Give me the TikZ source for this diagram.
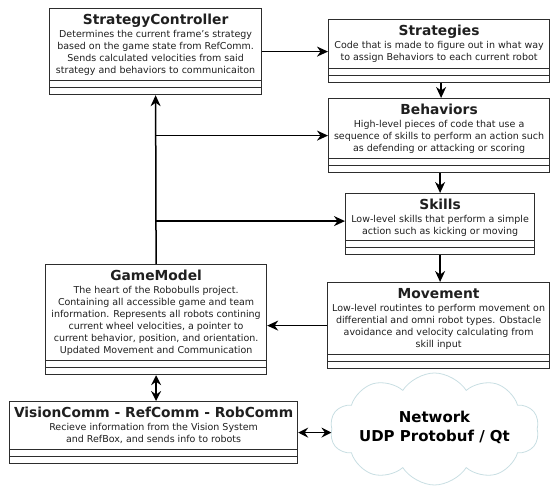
\documentclass[tikz,border=0pt]{standalone}
\usepackage{fontspec}
\setmainfont{DejaVu Sans}
\usetikzlibrary{arrows.meta,shapes.symbols}
\definecolor{cloudcol}{RGB}{200,222,226}
\definecolor{boxcol}{RGB}{45,45,45}
\tikzset{
  ubox/.style={draw=boxcol, line width=1.2pt, fill=white, anchor=north west, inner sep=0pt,
    path picture={
      \draw[boxcol, line width=1.2pt] ([yshift=7pt]path picture bounding box.south west) -- ([yshift=7pt]path picture bounding box.south east);
      \draw[boxcol, line width=1.2pt] ([yshift=14pt]path picture bounding box.south west) -- ([yshift=14pt]path picture bounding box.south east);
    }},
  utext/.style={anchor=north, align=center, inner sep=0pt, text=black!88,
    font=\fontsize{9.5}{12}\selectfont},
  arr/.style={line width=1.5pt, -{Stealth[length=11pt,width=10pt,inset=3.5pt]}},
  darr/.style={line width=1.5pt, {Stealth[length=10pt,width=10pt,inset=3.5pt]}-{Stealth[length=10pt,width=10pt,inset=3.5pt]}},
}
\newcommand{\ttl}[1]{{\fontsize{13.8}{13}\selectfont\bfseries #1}\\[1pt]}
\begin{document}
\begin{tikzpicture}[x=1pt,y=-1pt]
\useasboundingbox (0,0) rectangle (550,486);
% boxes
\node[ubox, minimum width=212pt, minimum height=86pt] (sc) at (49,8) {};
\node[ubox, minimum width=221pt, minimum height=63pt] (st) at (328,19) {};
\node[ubox, minimum width=221pt, minimum height=74pt] (bh) at (328,98) {};
\node[ubox, minimum width=189pt, minimum height=61pt] (sk) at (345,193) {};
\node[ubox, minimum width=222pt, minimum height=86pt] (mv) at (327,282) {};
\node[ubox, minimum width=221pt, minimum height=110pt] (gm) at (45,264) {};
\node[ubox, minimum width=288pt, minimum height=62pt] (vc) at (9,401) {};
\node[cloud, cloud puffs=10, cloud puff arc=115, aspect=2, draw=cloudcol, line width=0.8pt,
  minimum width=209pt, minimum height=112pt, inner sep=0pt] (net) at (434.5,429) {};
% texts
\node[utext] (sct) at ([yshift=-6pt]sc.north) {\ttl{StrategyController}Determines the current frame's strategy\\based on the game state from RefComm.\\Sends calculated velocities from said\\strategy and behaviors to communicaiton};
\node[utext] (stt) at ([yshift=-6pt]st.north) {\ttl{Strategies}Code that is made to figure out in what way\\to assign Behaviors to each current robot};
\node[utext] (bht) at ([yshift=-6pt]bh.north) {\ttl{Behaviors}High-level pieces of code that use a\\sequence of skills to perform an action such\\as defending or attacking or scoring};
\node[utext] (skt) at ([yshift=-6pt]sk.north) {\ttl{Skills}Low-level skills that perform a simple\\action such as kicking or moving};
\node[utext] (mvt) at ([yshift=-6pt]mv.north) {\ttl{Movement}Low-level routintes to perform movement on\\differential and omni robot types. Obstacle\\avoidance and velocity calculating from\\skill input};
\node[utext] (gmt) at ([yshift=-6pt]gm.north) {\ttl{GameModel}The heart of the Robobulls project.\\Containing all accessible game and team\\information. Represents all robots contining\\current wheel velocities, a pointer to\\current behavior, position, and orientation.\\Updated Movement and Communication};
\node[utext] (vct) at ([yshift=-6pt]vc.north) {\ttl{VisionComm - RefComm - RobComm}Recieve information from the Vision System\\and RefBox, and sends info to robots};
\node[align=center, inner sep=0pt, font=\fontsize{15}{19}\selectfont\bfseries] (nett) at ([yshift=2pt]net.center) {Network\\UDP Protobuf / Qt};
% connectors
\draw[arr] (sc.east) -- (sc.east -| st.west);
\draw[arr] (gm.north) -- (sc.south);
\coordinate (j1) at (gm.north |- bh.west);
\coordinate (j2) at ([yshift=3pt]gm.north |- sk.west);
\draw[arr] (j1) -- (bh.west);
\draw[arr] (j2) -- (j2 -| sk.west);
\draw[arr] ([xshift=2pt]st.south) -- ([xshift=2pt]st.south |- bh.north);
\draw[arr] ([xshift=1pt]bh.south) -- ([xshift=1pt]bh.south |- sk.north);
\draw[arr] (sk.south) -- (sk.south |- mv.north);
\draw[arr] (mv.west) -- (mv.west -| gm.east);
\draw[darr] (gm.south) -- (gm.south |- vc.north);
\draw[darr] (vc.east) -- (vc.east -| net.west);
\end{tikzpicture}
\end{document}
